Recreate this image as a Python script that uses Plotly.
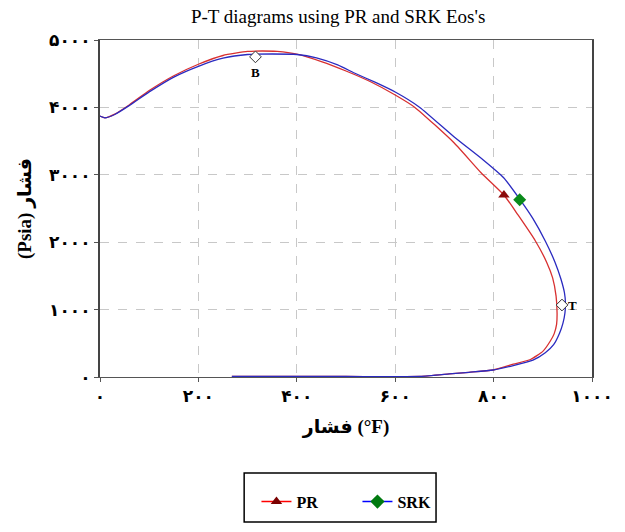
import plotly.graph_objects as go

# PR equation of state envelope (temperature F, pressure psia)
pr_temp = [0, 10, 30, 60, 100, 150, 200, 250, 300, 330, 360, 400, 450, 500, 550, 600, 640,
           720, 775, 821, 850, 885, 908, 920, 927, 929, 928, 923, 915, 900, 875, 840, 799,
           750, 710, 650, 500, 268]
pr_pres = [3870, 3845, 3900, 4040, 4250, 4470, 4640, 4770, 4830, 4837, 4830, 4790, 4680, 4540,
           4380, 4184, 4000, 3472, 3027, 2700, 2400, 2018, 1700, 1470, 1200, 950, 780, 640,
           530, 380, 260, 190, 104, 70, 45, 8, 8, 8]

# SRK equation of state envelope
srk_temp = [0, 10, 30, 60, 100, 150, 200, 250, 300, 350, 400, 440, 483, 517, 560, 600, 650,
            720, 779, 820, 853, 880, 905, 925, 937, 944, 946, 945, 941, 934, 922, 905, 880,
            840, 799, 750, 710, 650, 500, 268]
srk_pres = [3870, 3845, 3895, 4030, 4230, 4450, 4610, 4730, 4785, 4792, 4785, 4735, 4630,
            4510, 4370, 4228, 4000, 3561, 3220, 2960, 2640, 2350, 2018, 1700, 1450, 1250, 1098,
            950, 800, 650, 480, 360, 250, 170, 104, 70, 45, 8, 8, 8]

pr_crit = (821, 2700)
srk_crit = (853, 2630)
cricondenbar = (316, 4750)
cricondentherm = (939, 1068)

x_ticks = [0, 200, 400, 600, 800, 1000]
x_labels = ['۰', '۲۰۰', '۴۰۰', '۶۰۰', '۸۰۰', '۱۰۰۰']
y_ticks = [0, 1000, 2000, 3000, 4000, 5000]
y_labels = ['۰', '۱۰۰۰', '۲۰۰۰', '۳۰۰۰', '۴۰۰۰', '۵۰۰۰']

serif = 'Liberation Serif, Times New Roman, DejaVu Serif, DejaVu Sans'
red = '#d83030'
blue = '#2a2ac0'

fig = go.Figure()

fig.add_trace(go.Scatter(x=pr_temp, y=pr_pres, mode='lines', line_shape='spline',
                         line=dict(color=red, width=1.3, smoothing=0.5),
                         showlegend=False, hoverinfo='skip'))
fig.add_trace(go.Scatter(x=srk_temp, y=srk_pres, mode='lines', line_shape='spline',
                         line=dict(color=blue, width=1.3, smoothing=0.5),
                         showlegend=False, hoverinfo='skip'))

# critical points
fig.add_trace(go.Scatter(x=[pr_crit[0]], y=[pr_crit[1]], mode='markers',
                         marker=dict(symbol='triangle-up', size=10, color='#8b0a0a'),
                         showlegend=False))
fig.add_trace(go.Scatter(x=[srk_crit[0]], y=[srk_crit[1]], mode='markers',
                         marker=dict(symbol='diamond', size=10, color='#0a8a1a'),
                         showlegend=False))

# cricondenbar / cricondentherm
fig.add_trace(go.Scatter(x=[cricondenbar[0], cricondentherm[0]],
                         y=[cricondenbar[1], cricondentherm[1]], mode='markers',
                         marker=dict(symbol='diamond', size=9, color='white',
                                     line=dict(color='#333', width=1)),
                         showlegend=False))

# legend entries
fig.add_trace(go.Scatter(x=[None], y=[None], mode='lines+markers', name='PR',
                         line=dict(color='#ff0000', width=1.5),
                         marker=dict(symbol='triangle-up', size=10, color='#7a0000')))
fig.add_trace(go.Scatter(x=[None], y=[None], mode='lines+markers', name='SRK',
                         line=dict(color='#0000ff', width=1.5),
                         marker=dict(symbol='diamond', size=11, color='#007a10')))

fig.add_annotation(x=cricondenbar[0], y=cricondenbar[1], text='<b>B</b>', showarrow=False,
                   yshift=-16, font=dict(family=serif, size=13, color='black'))
fig.add_annotation(x=cricondentherm[0], y=cricondentherm[1], text='<b>T</b>', showarrow=False,
                   xshift=11, font=dict(family=serif, size=13, color='black'))

# legend frame
fig.add_shape(type='rect', xref='paper', yref='paper', x0=0.293, x1=0.683, y0=-0.43, y1=-0.285,
              line=dict(color='black', width=1.5))

fig.update_layout(
    width=625, height=532,
    margin=dict(l=100, r=27, t=40, b=155),
    paper_bgcolor='white', plot_bgcolor='white',
    title=dict(text="P-T diagrams using PR and SRK Eos's", x=0.541, xanchor='center',
               y=0.970, yanchor='middle', font=dict(family=serif, size=19, color='black')),
    legend=dict(orientation='h', x=0.318, xanchor='left', y=-0.37, yanchor='middle',
                font=dict(family=serif, size=16, color='black', weight='bold'),
                bgcolor='rgba(0,0,0,0)', itemwidth=30, entrywidth=56, tracegroupgap=0),
    xaxis=dict(range=[0, 1000], tickvals=x_ticks, ticktext=x_labels,
               showgrid=True, gridcolor='#c8c8c8', griddash='dash', gridwidth=1,
               zeroline=False, showline=True, linecolor='#555', linewidth=1, mirror=True,
               ticks='outside', ticklen=4, tickcolor='#555',
               tickfont=dict(family=serif, size=17, color='black', weight='bold'),
               title=dict(text='<b>فشار (°F)</b>', standoff=14,
                          font=dict(family=serif, size=19, color='black'))),
    yaxis=dict(range=[0, 5000], tickvals=y_ticks, ticktext=y_labels,
               showgrid=True, gridcolor='#c8c8c8', griddash='dash', gridwidth=1,
               zeroline=False, showline=True, linecolor='#444', linewidth=2, mirror=True,
               ticks='outside', ticklen=4, tickcolor='#555',
               tickfont=dict(family=serif, size=17, color='black', weight='bold'),
               title=dict(text='<b>(Psia) فشار</b>', standoff=12,
                          font=dict(family=serif, size=19, color='black'))),
)

fig.write_html("out.html", config={'displayModeBar': False},
               post_script="document.body.style.margin='0px';")
